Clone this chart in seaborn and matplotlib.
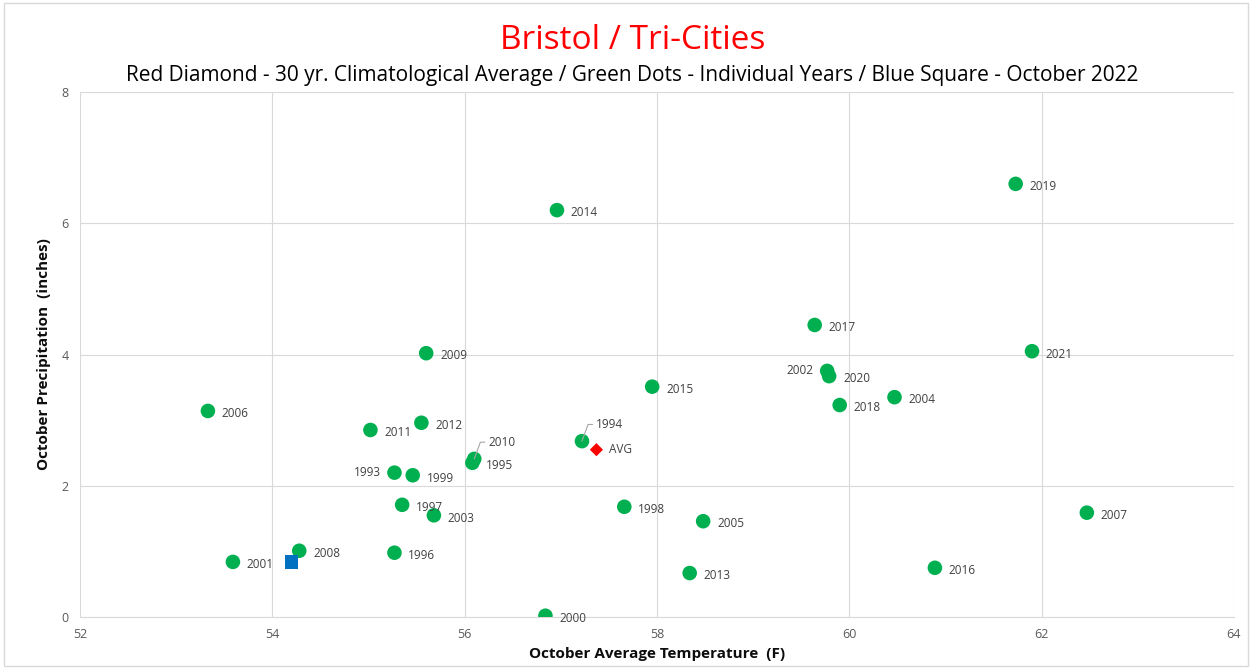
import pandas as pd
import seaborn as sns
import matplotlib.pyplot as plt
from matplotlib.patches import Rectangle

# Individual years (October)
years = ["2019", "2014", "2017", "2021", "2009", "2015", "2002", "2020", "2004", "2018",
         "2006", "2011", "2012", "2010", "1995", "1994", "1993", "1999", "1997", "2003",
         "1998", "2005", "2007", "2008", "1996", "2001", "2013", "2016", "2000"]
temps = [61.73, 56.96, 59.64, 61.90, 55.60, 57.95, 59.77, 59.79, 60.47, 59.90,
         53.33, 55.02, 55.55, 56.10, 56.08, 57.22, 55.27, 55.46, 55.35, 55.68,
         57.66, 58.48, 62.47, 54.28, 55.27, 53.59, 58.34, 60.89, 56.84]
precip = [6.60, 6.20, 4.45, 4.05, 4.02, 3.51, 3.75, 3.67, 3.35, 3.23,
          3.14, 2.85, 2.96, 2.41, 2.35, 2.68, 2.20, 2.16, 1.71, 1.55,
          1.68, 1.46, 1.59, 1.01, 0.98, 0.84, 0.67, 0.75, 0.02]

# 30 yr climatological average
avg_temp = [57.37]
avg_precip = [2.55]

# October 2022
cur_temp = [54.20]
cur_precip = [0.84]

left_labels = ["1993", "2002"]
leader_labels = ["1994", "2010"]

df = pd.DataFrame({"temp": temps, "precip": precip, "year": years})

sns.set_style("white")
plt.rcParams['font.family'] = ['Open Sans', 'DejaVu Sans']

fig = plt.figure(figsize=(12.52, 6.68), dpi=100)
ax = fig.add_axes([0.0639, 0.0763, 0.9217, 0.786])

sns.scatterplot(data=df, x="temp", y="precip", color="#00B050", s=110,
                edgecolor="none", ax=ax, zorder=3)
sns.scatterplot(x=avg_temp, y=avg_precip, color="#FF0000", marker="D", s=45,
                edgecolor="none", ax=ax, zorder=4)
sns.scatterplot(x=cur_temp, y=cur_precip, color="#0070C0", marker="s", s=95,
                edgecolor="none", ax=ax, zorder=4)

lab_kw = dict(fontsize=8.5, color="#404040", va="center")
for t, p, y in zip(temps, precip, years):
    if y in left_labels:
        ax.annotate(y, (t, p), xytext=(-10, 0), textcoords="offset points", ha="right", **lab_kw)
    elif y in leader_labels:
        ax.annotate(y, (t, p), xytext=(10, 12), textcoords="offset points", ha="left",
                    arrowprops=dict(arrowstyle="-", color="#a6a6a6", lw=0.8,
                                    shrinkA=0, shrinkB=0,
                                    connectionstyle="angle,angleA=0,angleB=70,rad=0"),
                    **lab_kw)
    else:
        ax.annotate(y, (t, p), xytext=(10, -2), textcoords="offset points", ha="left", **lab_kw)
ax.annotate("AVG", (avg_temp[0], avg_precip[0]), xytext=(9, 0), textcoords="offset points",
            ha="left", **lab_kw)

ax.set_xlim(52, 64)
ax.set_ylim(0, 8)
ax.set_xticks(range(52, 65, 2))
ax.set_yticks(range(0, 9, 2))
ax.grid(True, color="#d9d9d9", lw=0.8)
ax.set_axisbelow(True)
for side in ["top", "left", "right"]:
    ax.spines[side].set_visible(False)
ax.spines["bottom"].set_color("#d9d9d9")
ax.tick_params(axis="both", labelsize=9, colors="#595959", length=0, pad=8)

ax.set_xlabel("October Average Temperature  (F)", fontsize=11, fontweight="bold", color="#0d0d0d")
ax.set_ylabel("October Precipitation  (inches)", fontsize=11, fontweight="bold", color="#0d0d0d",
              labelpad=8)

fig.text(0.505, 0.940, "Bristol / Tri-Cities", ha="center", va="center", fontsize=24, color="#FF0000")
fig.text(0.505, 0.887, "Red Diamond - 30 yr. Climatological Average / Green Dots - Individual Years / Blue Square - October 2022",
         ha="center", va="center", fontsize=15, color="#000000")

fig.patches.append(Rectangle((0.003, 0.003), 0.994, 0.992, transform=fig.transFigure,
                             fill=False, edgecolor="#d9d9d9", lw=1))

fig.savefig("out.png", dpi=100)
